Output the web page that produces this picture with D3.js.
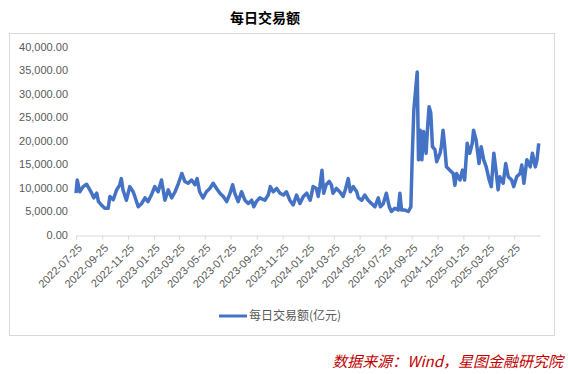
<!DOCTYPE html>
<html>
<head>
<meta charset="utf-8">
<script src="https://cdn.jsdelivr.net/npm/d3@7"></script>
<style>
  body { margin: 0; background: #fff; }
  text { font-family: "Liberation Sans", "Noto Sans CJK SC", sans-serif; }
  .cjk { font-family: "Noto Sans CJK SC", sans-serif; }
</style>
</head>
<body>
<div id="chart"></div>
<script>
var width = 568,
    height = 374;

// daily turnover (亿元)
var dates = [
  "2022-07-25","2022-07-28","2022-08-03","2022-08-11","2022-08-19","2022-08-31","2022-09-05","2022-09-12","2022-09-16","2022-09-23",
  "2022-10-01","2022-10-09","2022-10-13","2022-10-21","2022-10-29","2022-11-05","2022-11-09","2022-11-13","2022-11-21","2022-11-29",
  "2022-12-07","2022-12-11","2022-12-19","2022-12-27","2023-01-04","2023-01-11","2023-01-19","2023-01-27","2023-02-04","2023-02-12",
  "2023-02-20","2023-02-28","2023-03-08","2023-03-16","2023-03-24","2023-04-01","2023-04-08","2023-04-16","2023-04-24","2023-05-02",
  "2023-05-07","2023-05-13","2023-05-21","2023-05-29","2023-06-06","2023-06-14","2023-06-22","2023-06-30","2023-07-08","2023-07-16",
  "2023-07-24","2023-07-30","2023-08-04","2023-08-12","2023-08-20","2023-08-28","2023-09-05","2023-09-13","2023-09-18","2023-09-24",
  "2023-10-02","2023-10-14","2023-10-22","2023-10-27","2023-11-03","2023-11-11","2023-11-19","2023-11-27","2023-12-04","2023-12-12",
  "2023-12-20","2023-12-28","2024-01-05","2024-01-13","2024-01-21","2024-01-29","2024-02-01","2024-02-05","2024-02-13","2024-02-17",
  "2024-02-21","2024-02-26","2024-03-01","2024-03-07","2024-03-14","2024-03-19","2024-03-23","2024-03-31","2024-04-08","2024-04-16",
  "2024-04-22","2024-04-28","2024-05-03","2024-05-10","2024-05-18","2024-05-22","2024-05-30","2024-06-06","2024-06-14","2024-06-22",
  "2024-06-30","2024-07-08","2024-07-13","2024-07-20","2024-07-27","2024-08-03","2024-08-08","2024-08-16","2024-08-24","2024-08-28",
  "2024-09-01","2024-09-09","2024-09-17","2024-09-23","2024-09-26","2024-09-30","2024-10-08","2024-10-11","2024-10-15","2024-10-19",
  "2024-10-23","2024-10-29","2024-11-01","2024-11-05","2024-11-09","2024-11-13","2024-11-19","2024-11-23","2024-12-01","2024-12-04",
  "2024-12-08","2024-12-12","2024-12-16","2024-12-24","2025-01-01","2025-01-05","2025-01-09","2025-01-17","2025-01-23","2025-01-28",
  "2025-02-03","2025-02-09","2025-02-15","2025-02-18","2025-02-24","2025-03-03","2025-03-08","2025-03-14","2025-03-20","2025-03-27",
  "2025-04-01","2025-04-07","2025-04-12","2025-04-17","2025-04-21","2025-04-29","2025-05-05","2025-05-11","2025-05-19","2025-05-24",
  "2025-05-31","2025-06-08","2025-06-12","2025-06-17","2025-06-24","2025-07-02","2025-07-07","2025-07-14","2025-07-18","2025-07-22"
];

var turnover = [
  8900,11700,9200,10300,10800,8900,7900,8900,7100,6400,
  5700,5700,8200,7500,9600,10600,12000,9600,7400,10300,
  9200,8200,6000,6700,7900,7100,8500,10300,9200,11700,
  7400,9600,7900,9200,11000,13100,11400,11000,11700,10700,
  12000,9200,7900,9200,9900,11000,9900,8900,8200,7100,
  8900,10700,8900,7100,9200,7400,6700,7400,6000,7100,
  7900,7400,8500,10300,9200,9900,8900,8500,9200,7400,
  6400,8500,6700,8200,8900,7400,8500,10300,9900,8200,
  10300,13800,8900,10700,11400,10700,8900,9900,9200,8200,
  9900,12000,9200,10300,9200,7900,7400,8500,7400,6700,
  6000,7900,6000,6700,8900,6000,5000,5700,5300,8900,
  5300,5300,5000,6000,16000,26600,34700,16000,22300,16000,
  22000,17400,22300,27300,26000,18800,18100,15600,17400,18800,
  22300,18800,14500,13800,13100,10600,13100,11700,13800,11700,
  19500,17400,19500,22300,20200,15200,18800,16000,14500,11700,
  10300,17400,13800,9600,12400,11000,15200,12400,11700,10300,
  12400,13100,14900,11000,16000,14500,17400,14500,16000,19500
];

var tickDates = [
  "2022-07-25","2022-09-25","2022-11-25","2023-01-25","2023-03-25","2023-05-25",
  "2023-07-25","2023-09-25","2023-11-25","2024-01-25","2024-03-25","2024-05-25",
  "2024-07-25","2024-09-25","2024-11-25","2025-01-25","2025-03-25","2025-05-25"
];
var yTicks = [0, 5000, 10000, 15000, 20000, 25000, 30000, 35000, 40000];

var parse = d3.timeParse("%Y-%m-%d");

var svg = d3.select("#chart").append("svg")
    .attr("width", width)
    .attr("height", height);

svg.append("rect")
    .attr("width", width)
    .attr("height", height)
    .attr("fill", "#fff");

// chart frame
svg.append("rect")
    .attr("x", 9.5)
    .attr("y", 33.5)
    .attr("width", 545)
    .attr("height", 302)
    .attr("fill", "none")
    .attr("stroke", "#d9d9d9");

svg.append("text")
    .attr("class", "cjk")
    .attr("x", 265)
    .attr("y", 23)
    .attr("text-anchor", "middle")
    .attr("font-size", "14px")
    .attr("font-weight", "bold")
    .attr("fill", "#000")
    .text("每日交易额");

var x = d3.scaleTime()
    .domain([parse("2022-07-25"), parse("2025-07-25")])
    .range([76, 540]);

var y = d3.scaleLinear()
    .domain([0, 40000])
    .range([235, 47]);

// y labels (no axis line)
svg.selectAll(".ylab")
    .data(yTicks)
    .enter().append("text")
    .attr("class", "ylab")
    .attr("x", 68)
    .attr("y", function (d) { return y(d); })
    .attr("dy", ".35em")
    .attr("text-anchor", "end")
    .attr("font-size", "11px")
    .attr("fill", "#595959")
    .text(function (d) { return d3.format(",.2f")(d); });

// x axis
var xAxis = d3.axisBottom(x)
    .tickValues(tickDates.map(parse))
    .tickSize(4)
    .tickSizeOuter(0)
    .tickFormat("");

var gx = svg.append("g")
    .attr("transform", "translate(0,235.5)")
    .call(xAxis);
gx.select(".domain").attr("stroke", "#d9d9d9");
gx.selectAll(".tick line").attr("stroke", "#d9d9d9");

svg.selectAll(".xlab")
    .data(tickDates)
    .enter().append("text")
    .attr("class", "xlab")
    .attr("transform", function (d) {
        return "translate(" + (x(parse(d)) + 4) + ",246)rotate(-45)";
    })
    .attr("dy", ".35em")
    .attr("text-anchor", "end")
    .attr("font-size", "11px")
    .attr("fill", "#595959")
    .text(function (d) { return d; });

// series
var series = dates.map(function (d, i) {
    return {date: parse(d), value: turnover[i]};
});

var line = d3.line()
    .x(function (d) { return x(d.date); })
    .y(function (d) { return y(d.value); });

svg.append("path")
    .datum(series)
    .attr("d", line)
    .attr("fill", "none")
    .attr("stroke", "#4472c4")
    .attr("stroke-width", 3.5)
    .attr("stroke-linejoin", "round");

// legend
svg.append("line")
    .attr("x1", 219)
    .attr("x2", 247)
    .attr("y1", 316)
    .attr("y2", 316)
    .attr("stroke", "#4472c4")
    .attr("stroke-width", 3);

svg.append("text")
    .attr("class", "cjk")
    .attr("x", 249)
    .attr("y", 316)
    .attr("dy", ".35em")
    .attr("font-size", "12px")
    .attr("fill", "#595959")
    .text("每日交易额(亿元)");

// source note
svg.append("text")
    .attr("class", "cjk")
    .attr("x", 563)
    .attr("y", 362)
    .attr("dy", ".35em")
    .attr("text-anchor", "end")
    .attr("font-size", "15px")
    .attr("font-style", "italic")
    .attr("fill", "#c00000")
    .text("数据来源：Wind，星图金融研究院");
</script>
</body>
</html>
